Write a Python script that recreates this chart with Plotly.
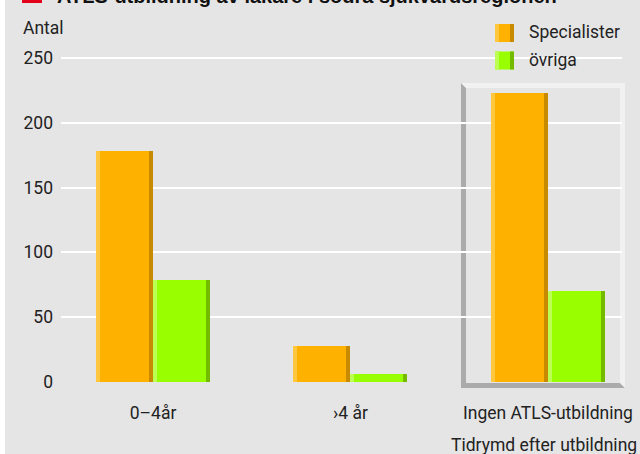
import plotly.graph_objects as go

# ---- data ----
categories = ["0–4år", "›4 år", "Ingen ATLS-utbildning"]
specialister = [178, 28, 223]
ovriga = [79, 6, 70]
y_ticks = [0, 50, 100, 150, 200, 250]
series_names = ["Specialister", "övriga"]
title_text = "ATLS-utbildning av läkare i södra sjukvårdsregionen"
y_label = "Antal"
x_label = "Tidrymd efter utbildning"

# ---- geometry helpers ----
W, H = 640, 454
ML, MR, MT, MB = 61, 18, 32, 72
PW, PH = W - ML - MR, H - MT - MB


def px(x):
    return (x - ML) / PW


def py(y):
    return (H - MB - y) / PH


FONT = "Roboto, Liberation Sans, Arial, sans-serif"
BG = "#e5e5e5"
TXT = "#222222"

BW = 57 / 197.5      # bar width in category units
SW = 4 / 197.5       # highlight strip width

colors = {
    "Specialister": ("#ffb100", "#ffc63f", "#c78a00"),
    "övriga": ("#99ff00", "#bbff55", "#74bb00"),
}

fig = go.Figure()
for name, vals, off in [("Specialister", specialister, -BW), ("övriga", ovriga, 0.0)]:
    main, light, dark = colors[name]
    fig.add_trace(go.Bar(x=categories, y=vals, name=name, width=BW, offset=off,
                         marker=dict(color=main, line=dict(width=0)), showlegend=False))
    fig.add_trace(go.Bar(x=categories, y=vals, name=name, width=SW, offset=off,
                         marker=dict(color=light, line=dict(width=0)), showlegend=False,
                         hoverinfo="skip"))
    fig.add_trace(go.Bar(x=categories, y=vals, name=name, width=SW, offset=off + BW - SW,
                         marker=dict(color=dark, line=dict(width=0)), showlegend=False,
                         hoverinfo="skip"))

shapes = []
# grey background
shapes.append(dict(type="rect", xref="paper", yref="paper", x0=px(5), x1=px(W + 5),
                   y0=py(H + 5), y1=py(-5), fillcolor=BG, line=dict(width=0), layer="below"))
# legend background covering gridline
shapes.append(dict(type="rect", xref="paper", yref="paper", x0=px(477), x1=px(W + 5),
                   y0=py(75), y1=py(15), fillcolor=BG, line=dict(width=0), layer="between"))


def poly(points):
    return "M " + " L ".join(f"{px(a)},{py(b)}" for a, b in points) + " Z"


# bevelled frame around third group
L, T, R, B, t = 461, 83, 625, 388, 5
shapes.append(dict(type="path", xref="paper", yref="paper",
                   path=poly([(L, T), (L + t, T + t), (L + t, B - t), (R - t, B - t), (R, B), (L, B)]),
                   fillcolor="rgba(0,0,0,0.25)", line=dict(width=0), layer="between"))
shapes.append(dict(type="path", xref="paper", yref="paper",
                   path=poly([(L, T), (R, T), (R, B), (R - t, B - t), (R - t, T + t), (L + t, T + t)]),
                   fillcolor="rgba(255,255,255,0.45)", line=dict(width=0), layer="between"))

# title marker
shapes.append(dict(type="rect", xref="paper", yref="paper", x0=px(22), x1=px(42),
                   y0=py(3), y1=py(-20), fillcolor="#e2001a", line=dict(width=0), layer="above"))

# legend swatches
annotations = []
for i, name in enumerate(series_names):
    main, light, dark = colors[name]
    y0, y1 = 24 + 27.5 * i, 42 + 27.5 * i
    for (a, b, c) in [(495, 514, main), (495, 499, light), (510, 514, dark)]:
        shapes.append(dict(type="rect", xref="paper", yref="paper", x0=px(a), x1=px(b),
                           y0=py(y1), y1=py(y0), fillcolor=c, line=dict(width=0), layer="above"))
    annotations.append(dict(text=name, xref="paper", yref="paper", x=px(527), y=py((y0 + y1) / 2 - 1),
                            xanchor="left", yanchor="middle", showarrow=False,
                            font=dict(family=FONT, size=17.5, color=TXT)))

annotations.append(dict(text=y_label, xref="paper", yref="paper", x=px(21), y=py(28.5),
                        xanchor="left", yanchor="middle", showarrow=False,
                        font=dict(family=FONT, size=17.5, color=TXT)))
annotations.append(dict(text=x_label, xref="paper", yref="paper", x=px(639), y=py(445),
                        xanchor="right", yanchor="middle", showarrow=False,
                        font=dict(family=FONT, size=17.5, color=TXT)))
annotations.append(dict(text="<b>" + title_text + "</b>", xref="paper", yref="paper",
                        x=px(55), y=py(-4), xanchor="left", yanchor="middle", showarrow=False,
                        font=dict(family="Liberation Sans, Arial, sans-serif", size=20, color="#111111")))

fig.update_layout(
    width=W, height=H,
    margin=dict(l=ML, r=MR, t=MT, b=MB, pad=0, autoexpand=False),
    paper_bgcolor="white", plot_bgcolor="rgba(0,0,0,0)",
    barmode="overlay", bargap=0,
    shapes=shapes, annotations=annotations,
    font=dict(family=FONT, size=17, color=TXT),
    showlegend=False,
)
fig.update_xaxes(type="category", range=[-0.466, 2.375], showgrid=False, showline=False,
                 zeroline=False, ticks="", ticklabelstandoff=18, automargin=False,
                 tickfont=dict(family=FONT, size=17.5, color=TXT), fixedrange=True)
fig.update_yaxes(range=[0, 270], tickvals=y_ticks, showgrid=True, gridcolor="white", gridwidth=2,
                 showline=False, zeroline=False, ticks="", ticklabelstandoff=7, automargin=False,
                 tickfont=dict(family=FONT, size=17.5, color=TXT), fixedrange=True)

fig.write_html("out.html")
